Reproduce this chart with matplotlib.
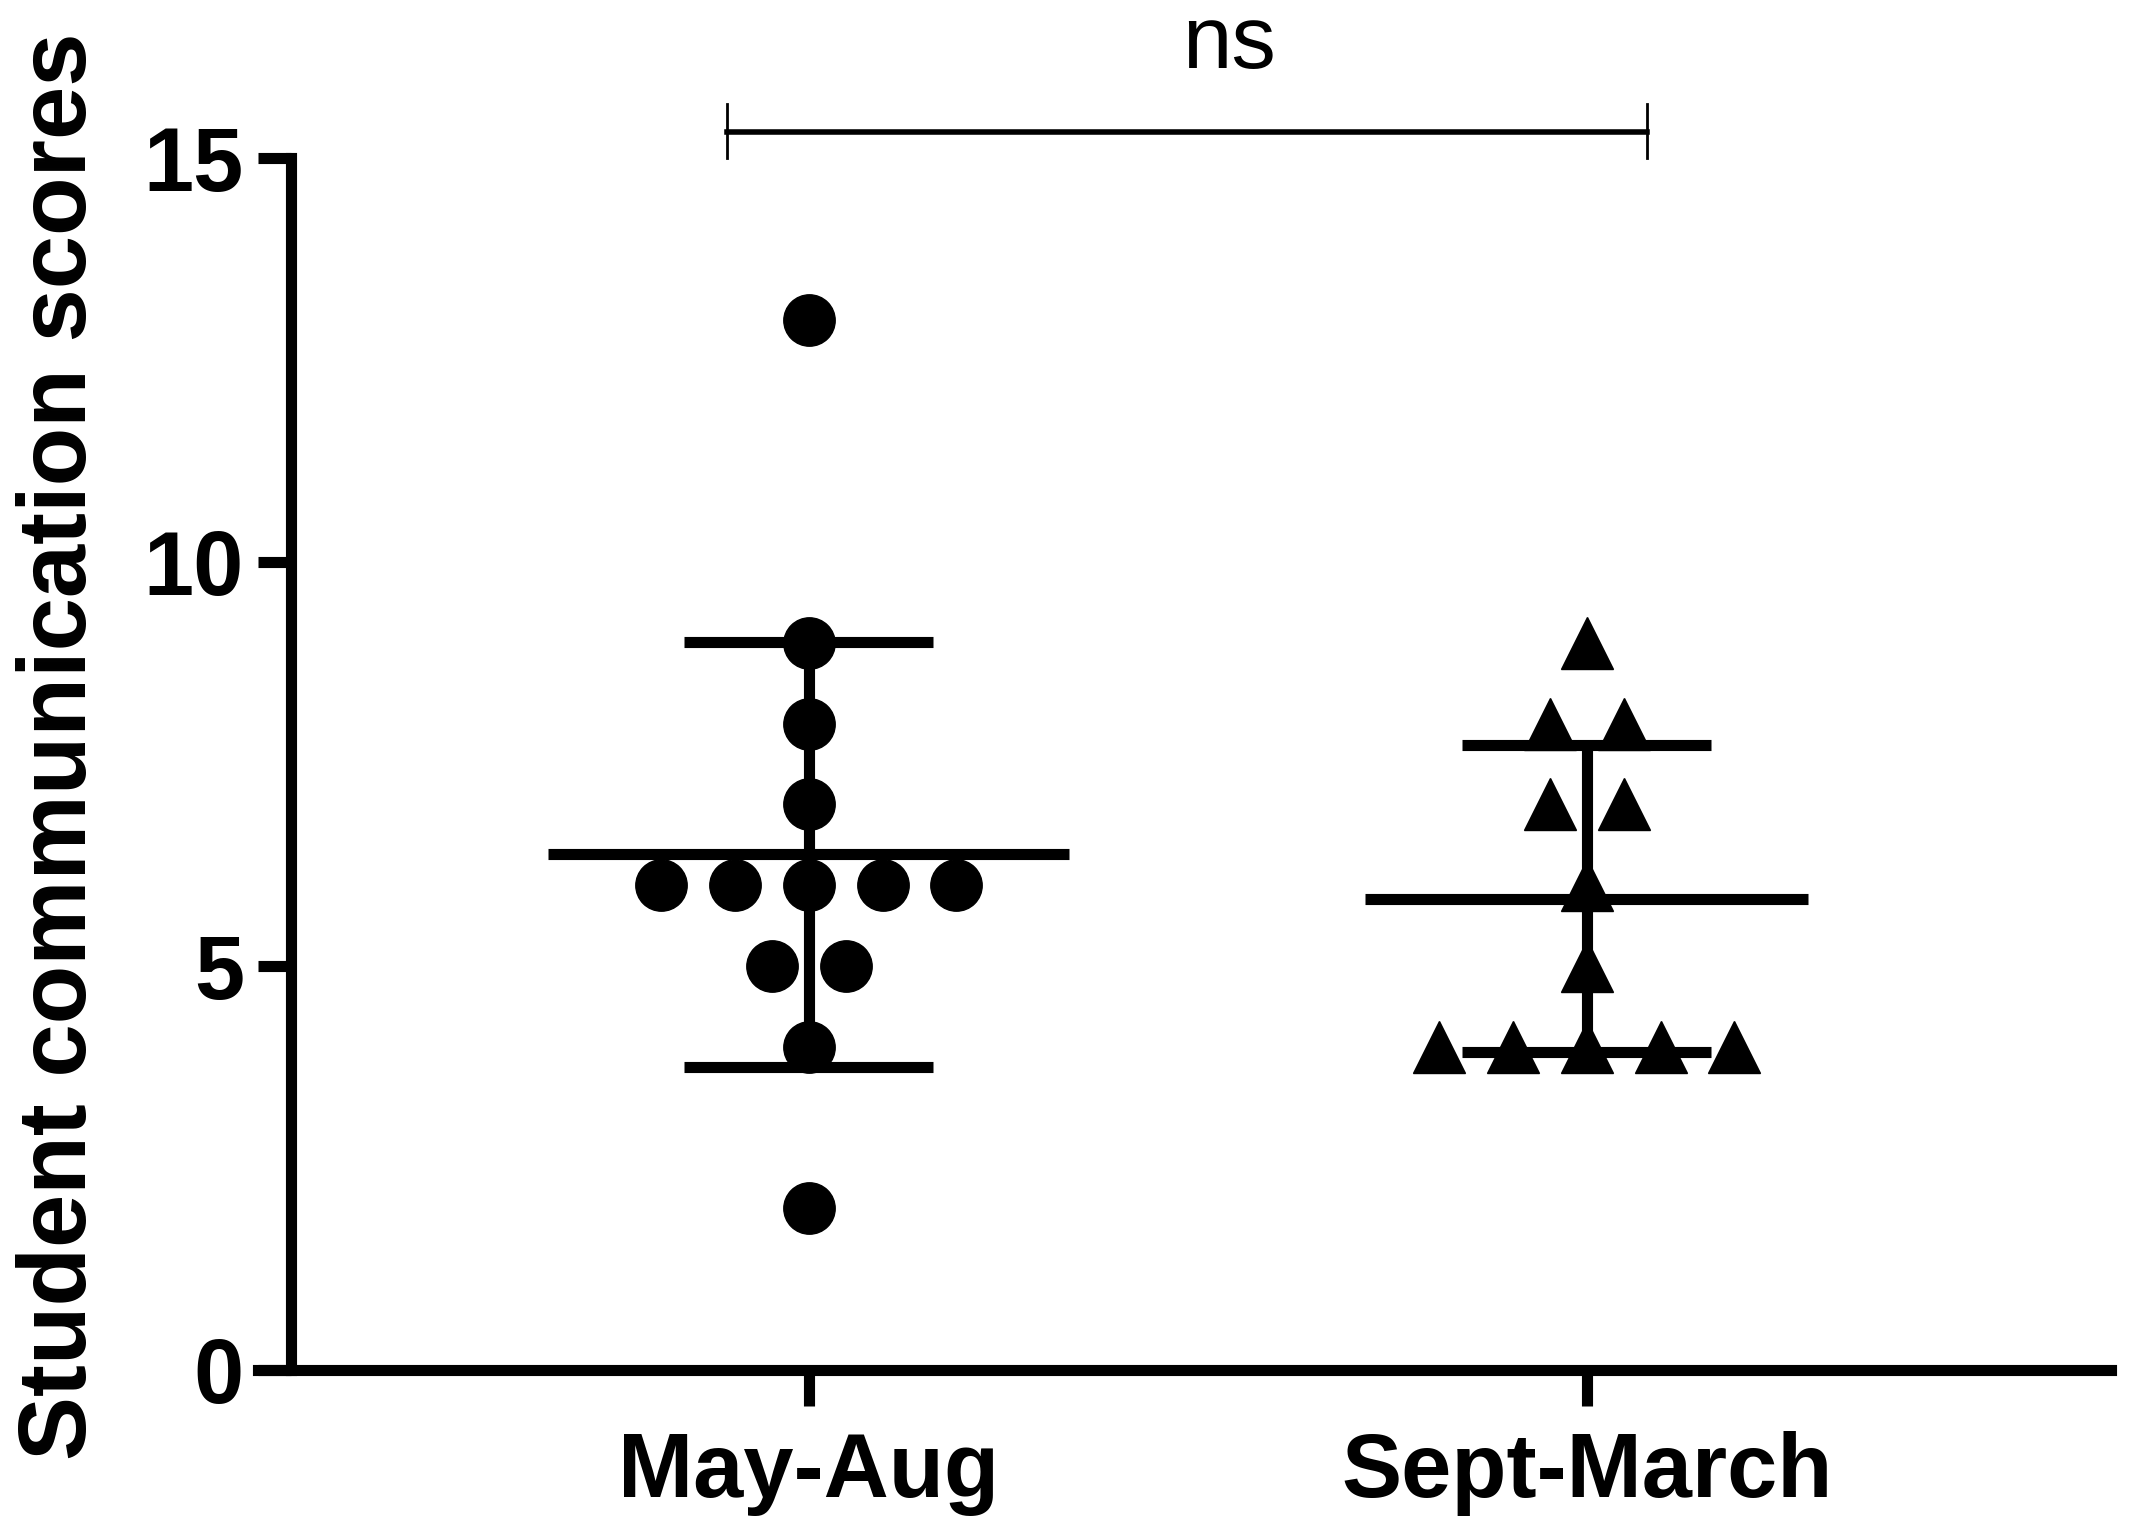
# Scatter dot plot with mean +/- SD, GraphPad style

import numpy as np
import matplotlib.pyplot as plt

plt.rcParams['font.family'] = ['Liberation Sans', 'DejaVu Sans']

# data
groups = ['May-Aug', 'Sept-March']
may_aug = [13, 9, 8, 7, 6, 6, 6, 6, 6, 5, 5, 4, 2]
sept_march = [9, 8, 8, 7, 7, 6, 5, 4, 4, 4, 4, 4]
markers = ['o', '^']
mean_halfwidth = [0.335, 0.285]
yticks = [0, 5, 10, 15]
sig_label = 'ns'

# layout
spacing = 0.095
cap = 0.16
lw = 8

fig = plt.figure(figsize=(21.31, 15.35), dpi=100)
ax = fig.add_axes([0.121, 0.1075, 0.9906 - 0.121, 0.897 - 0.1075])

for i, vals in enumerate([may_aug, sept_march]):
    vals = np.array(vals, dtype=float)
    # spread equal values side by side
    xs = np.zeros(len(vals))
    for v in np.unique(vals):
        idx = np.where(vals == v)[0]
        n = len(idx)
        xs[idx] = i + (np.arange(n) - (n - 1) / 2) * spacing
    ax.plot(xs, vals, linestyle='none', marker=markers[i], ms=37,
            color='black', mec='black', zorder=3)

    m = vals.mean()
    sd = vals.std(ddof=1)
    ax.hlines(m, i - mean_halfwidth[i], i + mean_halfwidth[i], color='black', lw=lw, zorder=4)
    ax.vlines(i, m - sd, m + sd, color='black', lw=lw, zorder=4)
    ax.hlines([m - sd, m + sd], i - cap, i + cap, color='black', lw=lw, zorder=4)

ax.set_xlim(-0.708, 1.674)
ax.set_ylim(0, 15)

ax.spines['top'].set_visible(False)
ax.spines['right'].set_visible(False)
ax.spines['left'].set_position(('data', -0.665))
ax.spines['left'].set_bounds(0, 15)
ax.spines['left'].set_linewidth(lw)
ax.spines['bottom'].set_linewidth(lw)
ax.spines['left'].set_capstyle('projecting')

ax.set_xticks([0, 1])
ax.set_xticklabels(groups, fontsize=65, fontweight='bold')
ax.set_yticks(yticks)
ax.set_yticklabels([str(t) for t in yticks], fontsize=65, fontweight='bold')
ax.tick_params(axis='x', length=26, width=lw, pad=18)
ax.tick_params(axis='y', length=24, width=lw, pad=10)

ax.set_ylabel('Student communication scores', fontsize=69, fontweight='bold')
ax.yaxis.set_label_coords(-0.082, 0.515)

# significance bracket
by = 15.32
ax.plot([-0.105, 1.077], [by, by], color='black', lw=4, clip_on=False)
ax.plot([-0.105, -0.105], [15.0, 15.67], color='black', lw=2, clip_on=False)
ax.plot([1.077, 1.077], [15.0, 15.67], color='black', lw=2, clip_on=False)
ax.text(0.54, 16.11, sig_label, fontsize=64, ha='center', va='baseline', clip_on=False)

fig.savefig('out.png', dpi=100)
